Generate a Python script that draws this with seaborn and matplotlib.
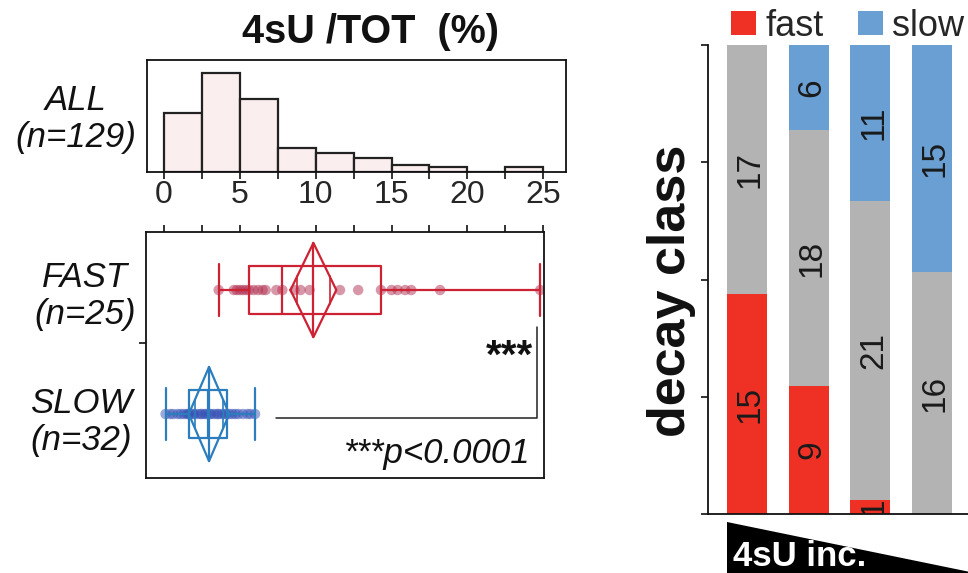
import numpy as np
import pandas as pd
import matplotlib
matplotlib.use("Agg")
import matplotlib.pyplot as plt
from matplotlib.patches import Polygon, Patch
from matplotlib.ticker import MultipleLocator
import seaborn as sns

# ---------------- data ----------------
# histogram of all transcripts (bin edges in %, counts per bin)
hist_edges = [0, 2.5, 5, 7.5, 10, 12.5, 15, 17.5, 20, 22.5, 25]
hist_counts = [25, 42, 31, 10, 8, 6, 3, 2, 0, 2]

# 4sU/TOT (%) per transcript in the fast / slow decay classes
fast_values = [3.6, 4.6, 4.8, 5.0, 5.2, 5.4, 5.6, 5.9, 6.2, 6.5, 6.7, 7.4,
               7.8,
               8.6, 9.0, 9.6, 11.6, 12.8, 14.3, 15.0, 15.4, 15.9, 16.3, 18.2, 24.8]
slow_values = [0.1, 0.4, 0.6, 0.9, 1.1, 1.3, 1.5, 1.6, 1.7, 1.9, 2.0, 2.2,
               2.4, 2.5, 2.7, 2.8, 3.0, 3.1, 3.3, 3.5, 3.6, 3.8, 4.0, 4.1,
               4.3, 4.5, 4.7, 4.9, 5.2, 5.5, 5.7, 6.0]

group_labels = ["ALL", "FAST", "SLOW"]
group_sizes = [129, 25, 32]
p_label = "***p<0.0001"
sig_label = "***"

# decay-class composition of the 4sU incorporation bins
inc_bins = ["b1", "b2", "b3", "b4"]
class_names = ["fast", "mid", "slow"]
fast_counts = [15, 9, 1, 0]
mid_counts = [17, 18, 21, 16]
slow_counts = [0, 6, 11, 15]

# ---------------- style ----------------
sns.set_theme(style="ticks")
plt.rcParams["font.family"] = ["Liberation Sans", "DejaVu Sans"]
plt.rcParams["axes.linewidth"] = 1.3
plt.rcParams["axes.edgecolor"] = "#111111"

RED_BAR, GRAY_BAR, BLUE_BAR = "#ee3124", "#b3b3b3", "#6a9fd4"
FAST_LINE, SLOW_LINE = "#cc2233", "#2b7dbd"
FAST_PT, SLOW_PT = "#b03052", "#3550b5"

W, H = 968, 573
fig = plt.figure(figsize=(W / 100, H / 100), dpi=100)


def fx(px):
    return px / W


def fy(py):
    return 1 - py / H


def box(l, t, r, b):
    return [fx(l), fy(b), (r - l) / W, (b - t) / H]


# ---------------- histogram (ALL) ----------------
ax_h = fig.add_axes(box(147, 60, 566, 172))
centers = [(a + b) / 2 for a, b in zip(hist_edges[:-1], hist_edges[1:])]
sns.histplot(x=centers, weights=hist_counts, bins=hist_edges, ax=ax_h,
             color="#fbeeee", edgecolor="#222222", linewidth=1.6, alpha=1)
ax_h.set_xlim(-1.12, 26.5)
ax_h.set_ylim(0, 47.5)
ax_h.set_yticks([])
ax_h.set_ylabel("")
ax_h.xaxis.set_major_locator(MultipleLocator(5))
ax_h.xaxis.set_minor_locator(MultipleLocator(2.5))
ax_h.tick_params(axis="x", which="both", direction="out", length=5, width=1.2,
                 color="#111111")
ax_h.tick_params(axis="x", which="major", labelsize=23, pad=1)
for s in ax_h.spines.values():
    s.set_visible(True)

# ---------------- box plots (FAST / SLOW) ----------------
ax_b = fig.add_axes(box(146, 232, 544, 478))
df = pd.DataFrame({
    "value": fast_values + slow_values,
    "group": ["FAST"] * len(fast_values) + ["SLOW"] * len(slow_values),
})
order = ["FAST", "SLOW"]
sns.stripplot(data=df, x="value", y="group", hue="group", order=order,
              palette={"FAST": FAST_PT, "SLOW": SLOW_PT}, jitter=False,
              size=7.5, alpha=0.5, linewidth=0, legend=False, ax=ax_b, zorder=1)
sns.boxplot(data=df, x="value", y="group", hue="group", order=order,
            palette={"FAST": FAST_LINE, "SLOW": SLOW_LINE}, fill=False,
            width=0.39, whis=(0, 100), linewidth=1.6, showfliers=False,
            capwidths=0.42, legend=False, ax=ax_b)

# means diamonds (95% CI from pooled standard deviation)
groups_vals = [np.asarray(fast_values), np.asarray(slow_values)]
ss = sum(((v - v.mean()) ** 2).sum() for v in groups_vals)
dof = sum(len(v) for v in groups_vals) - len(groups_vals)
pooled_sd = np.sqrt(ss / dof)
t_crit = 2.004  # two-sided 95% Student t quantile, 55 dof
half_h = 0.38
for i, (v, c) in enumerate(zip(groups_vals, [FAST_LINE, SLOW_LINE])):
    m = v.mean()
    hw = t_crit * pooled_sd / np.sqrt(len(v))
    ax_b.plot([m - hw, m, m + hw, m, m - hw], [i, i - half_h, i, i + half_h, i],
              color=c, lw=1.6, zorder=4)
    ax_b.plot([m, m], [i - half_h, i + half_h], color=c, lw=1.6, zorder=4)
    o = hw / np.sqrt(2)
    dd = half_h * (1 - 1 / np.sqrt(2))
    for xo in (m - o, m + o):
        ax_b.plot([xo, xo], [i - dd, i + dd], color=c, lw=1.2, zorder=4)

ax_b.set_xlim(-1.19, 25.05)
ax_b.set_ylim(1.516, -0.468)
ax_b.set_xlabel("")
ax_b.set_ylabel("")
ax_b.xaxis.set_major_locator(MultipleLocator(2.5))
ax_b.xaxis.tick_top()
ax_b.tick_params(axis="x", which="both", direction="out", length=5, width=1.2,
                 labeltop=False, labelbottom=False, color="#111111")
ax_b.set_yticks([0.427])
ax_b.set_yticklabels([])
ax_b.tick_params(axis="y", direction="out", length=5, width=1.2, color="#111111")
for s in ax_b.spines.values():
    s.set_visible(True)

# significance bracket
xb = max(fast_values) - 0.2
ax_b.plot([xb, xb, 7.4], [0.30, 1.03, 1.03], color="#222222", lw=1.1, zorder=3)
ax_b.text(24.3, 0.63, sig_label, ha="right", va="baseline", fontsize=29,
          fontweight="bold", color="#111111")
ax_b.text(24.15, 1.395, p_label, ha="right", va="baseline", fontsize=25,
          style="italic", color="#111111")

# group labels on the left
label_pos = [(76, 110), (85, 287), (81, 413)]
for name, n, (x0, y0) in zip(group_labels, group_sizes, label_pos):
    fig.text(fx(x0), fy(y0), name, ha="center", va="baseline", fontsize=25,
             style="italic", color="#111111")
    fig.text(fx(x0), fy(y0 + 37), f"(n={n})", ha="center", va="baseline",
             fontsize=25, style="italic", color="#111111")

fig.text(fx(371), fy(43), "4sU /TOT  (%)", ha="center", va="baseline",
         fontsize=28.5, fontweight="bold", color="#111111")

# ---------------- decay-class composition ----------------
ax_r = fig.add_axes(box(708, 45, 968, 514))
comp = pd.DataFrame({
    "bin": np.repeat(inc_bins, len(class_names)),
    "cls": class_names * len(inc_bins),
    "count": np.ravel(np.column_stack([fast_counts, mid_counts, slow_counts])),
})
sns.histplot(data=comp, x="bin", hue="cls", weights="count", multiple="fill",
             discrete=True, shrink=0.65, hue_order=["slow", "mid", "fast"],
             palette={"fast": RED_BAR, "mid": GRAY_BAR, "slow": BLUE_BAR},
             alpha=1, linewidth=0, legend=False, ax=ax_r)
ax_r.set_xlim(-0.63, 3.58)
ax_r.set_ylim(0, 1)
ax_r.set_xticks([])
ax_r.set_yticks([0, 0.25, 0.5, 0.75, 1])
ax_r.set_yticklabels([])
ax_r.tick_params(axis="y", direction="out", length=5, width=1.2, color="#111111")
ax_r.set_xlabel("")
ax_r.set_ylabel("")
ax_r.spines["top"].set_visible(False)
ax_r.spines["right"].set_visible(False)

for i in range(len(inc_bins)):
    counts = [fast_counts[i], mid_counts[i], slow_counts[i]]
    total = sum(counts)
    bottom = 0.0
    for c in counts:
        frac = c / total
        if c > 0:
            ax_r.text(i + 0.05, bottom + frac / 2, str(c), rotation=90,
                      ha="center", va="center", fontsize=24, color="#1a1a1a",
                      clip_on=True)
        bottom += frac

fig.text(fx(672), fy(291), "decay class", rotation=90, ha="center",
         va="center", fontsize=37.5, fontweight="bold", color="#111111")

handles = [Patch(facecolor=RED_BAR, edgecolor="none"),
           Patch(facecolor=BLUE_BAR, edgecolor="none")]
fig.legend(handles, ["fast", "slow"], loc="center left",
           bbox_to_anchor=(fx(731), fy(26)), ncol=2, frameon=False,
           fontsize=26, handlelength=0.7, handleheight=0.65,
           handletextpad=0.25, columnspacing=0.95, borderpad=0,
           borderaxespad=0)

# incorporation wedge below the bars
wedge = Polygon([(fx(727), fy(522)), (fx(975), fy(573)), (fx(975), fy(580)),
                 (fx(727), fy(580))], closed=True, transform=fig.transFigure,
                facecolor="black", edgecolor="none")
fig.add_artist(wedge)
fig.text(fx(733), fy(566), "4sU inc.", ha="left", va="baseline", fontsize=25,
         fontweight="bold", color="white")

fig.savefig("out.png", dpi=100)
